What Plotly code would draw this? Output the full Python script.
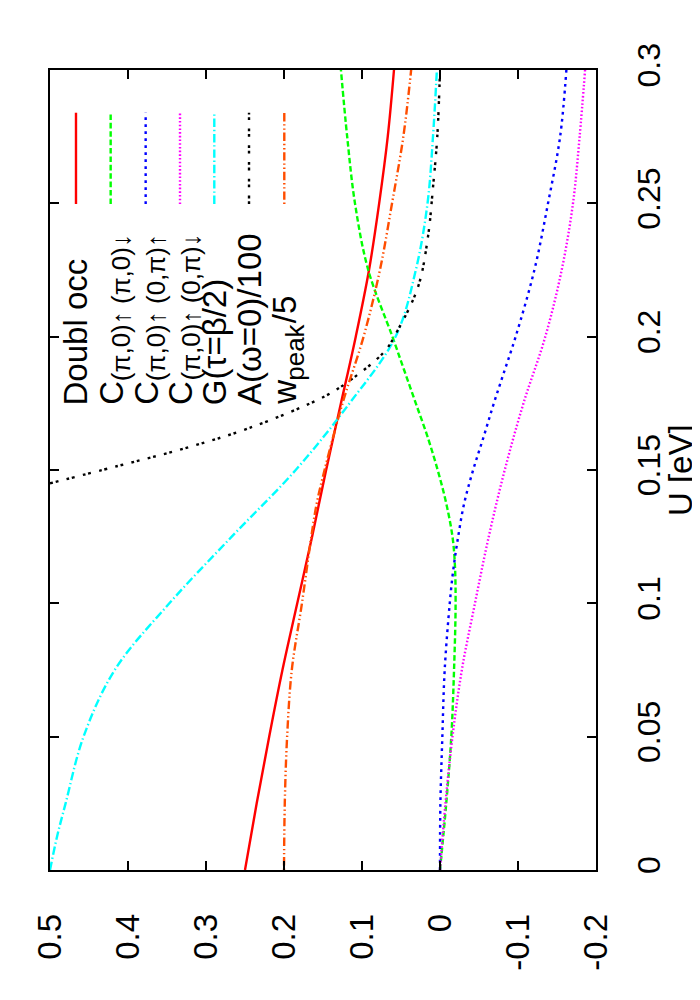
import plotly.graph_objects as go

# U [eV] grid for the curves
u_main = [0.0, 0.025, 0.05, 0.075, 0.1, 0.125, 0.15, 0.175, 0.2, 0.225, 0.25, 0.275, 0.3]
doubl_occ = [0.250, 0.235, 0.219, 0.202, 0.183, 0.164, 0.146, 0.127, 0.108, 0.091, 0.078, 0.067, 0.059]

u_cyan = [0.0, 0.0125, 0.025, 0.05, 0.075, 0.1, 0.125, 0.15, 0.175, 0.2, 0.225, 0.25, 0.275, 0.3]
g_tau = [0.500, 0.491, 0.480, 0.457, 0.417, 0.347, 0.267, 0.185, 0.116, 0.057, 0.031, 0.016, 0.009, 0.004]

u_green = [0.0, 0.025, 0.05, 0.075, 0.1, 0.115, 0.125, 0.1375, 0.15, 0.1625, 0.175, 0.1875, 0.2, 0.225, 0.25, 0.275, 0.3]
c_pp_ud = [0.0, -0.008, -0.0145, -0.018, -0.020, -0.019, -0.016, -0.008, 0.003, 0.016, 0.031, 0.046, 0.061, 0.092, 0.109, 0.119, 0.127]

u_blue = [0.0, 0.025, 0.05, 0.075, 0.1, 0.1125, 0.125, 0.1375, 0.15, 0.1625, 0.175, 0.1875, 0.2, 0.225, 0.25, 0.275, 0.3]
c_p0_uu = [0.0, -0.0005, -0.003, -0.006, -0.0125, -0.017, -0.0233, -0.031, -0.0425, -0.056, -0.069, -0.083, -0.097, -0.121, -0.1385, -0.154, -0.162]

c_p0_ud = [0.0, -0.007, -0.016, -0.028, -0.0448, -0.0625, -0.083, -0.107, -0.135, -0.156, -0.1705, -0.179, -0.186]

u_black = [0.145, 0.1514, 0.158, 0.1658, 0.1776, 0.1839, 0.1945, 0.2025, 0.2188, 0.2375, 0.256, 0.275, 0.3]
a_w0 = [0.500, 0.4145, 0.329, 0.244, 0.148, 0.114, 0.071, 0.054, 0.028, 0.0154, 0.009, 0.0035, 0.0]

u_orange = [0.0, 0.025, 0.05, 0.075, 0.1, 0.125, 0.1375, 0.15, 0.175, 0.2, 0.225, 0.25, 0.275, 0.3]
w_peak = [0.200, 0.199, 0.196, 0.190, 0.177, 0.165, 0.158, 0.148, 0.125, 0.098, 0.077, 0.0615, 0.047, 0.037]

val_ticks = [0.5, 0.4, 0.3, 0.2, 0.1, 0.0, -0.1, -0.2]
val_labels = ["0.5", "0.4", "0.3", "0.2", "0.1", "0", "-0.1", "-0.2"]
u_ticks = [0.0, 0.05, 0.1, 0.15, 0.2, 0.25, 0.3]
u_labels = ["0", "0.05", "0.1", "0.15", "0.2", "0.25", "0.3"]

names = ["Doubl occ",
         "C<sub>(π,0)↑ (π,0)↓</sub>",
         "C<sub>(π,0)↑ (0,π)↑</sub>",
         "C<sub>(π,0)↑ (0,π)↓</sub>",
         "G(τ=β/2)",
         "A(ω=0)/100",
         "w<sub>peak</sub>/5"]

# key text split in pieces: (text, is subscript, advance in px of the piece)
key_parts = [
    [("Doubl occ", False, 0)],
    [("C", False, 24), ("(π,0)↑ (π,0)↓", True, 0)],
    [("C", False, 24), ("(π,0)↑ (0,π)↑", True, 0)],
    [("C", False, 24), ("(π,0)↑ (0,π)↓", True, 0)],
    [("G(τ=β/2)", False, 0)],
    [("A(ω=0)/100", False, 0)],
    [("w", False, 24), ("peak", True, 58), ("/5", False, 0)],
]

# gnuplot postscript line types
styles = [
    ("#FF0000", "solid"),
    ("#00FF00", "5.6px,2.8px"),
    ("#0000FF", "2.8px,4.2px"),
    ("#FF00FF", "1.6px,2.1px"),
    ("#00FFFF", "8.4px,2.8px,1.4px,2.8px"),
    ("#000000", "2.8px,2.8px,2.8px,8.4px"),
    ("#FF4D00", "1.4px,2.8px,8.4px,2.8px,1.4px,2.8px"),
]

series = [
    (doubl_occ, u_main),
    (c_pp_ud, u_green),
    (c_p0_uu, u_blue),
    (c_p0_ud, u_main),
    (g_tau, u_cyan),
    (a_w0, u_black),
    (w_peak, u_orange),
]

font = "Liberation Sans, Arial, Helvetica, sans-serif"
plot_w, plot_h = 546, 800

fig = go.Figure()

for (vals, us), (color, dash), name in zip(series, styles, names):
    fig.add_trace(go.Scatter(
        x = vals,
        y = us,
        mode = "lines",
        line = dict(color = color, width = 2.4, dash = dash),
        line_shape = "spline",
        name = name,
        showlegend = False,
    ))

# rotated key: text + vertical sample line per entry
key_x = [0.0476, 0.1111, 0.1752, 0.2381, 0.3009, 0.3645, 0.4291]
key_y0 = 0.58
for i, (color, dash) in enumerate(styles):
    fig.add_shape(
        type = "line", xref = "paper", yref = "paper",
        x0 = key_x[i], x1 = key_x[i], y0 = 0.8325, y1 = 0.9466,
        line = dict(color = color, width = 2.4, dash = dash),
    )
    y = key_y0
    for text, is_sub, adv in key_parts[i]:
        fig.add_annotation(
            x = key_x[i] + (10 / plot_w if is_sub else 0), y = y,
            xref = "paper", yref = "paper",
            text = text, textangle = -90, showarrow = False,
            xanchor = "center", yanchor = "bottom",
            borderpad = 0,
            font = dict(size = 26 if is_sub else 33, color = "black", family = font),
        )
        y += adv / plot_h

# axis title, placed by hand next to the rotated tick labels
fig.add_annotation(
    x = 1.154, y = 0.5, xref = "paper", yref = "paper",
    text = "U [eV]", textangle = -90, showarrow = False,
    xanchor = "center", yanchor = "middle",
    font = dict(size = 33, color = "black", family = font),
)

fig.update_layout(
    width = 700,
    height = 1000,
    autosize = False,
    margin = dict(l = 42, r = 112, t = 62, b = 138),
    paper_bgcolor = "white",
    plot_bgcolor = "white",
    font = dict(family = font, size = 32, color = "black"),
    showlegend = False,
)

fig.update_xaxes(
    range = [0.5, -0.2],
    tickvals = val_ticks,
    ticktext = val_labels,
    tickangle = -90,
    ticks = "inside",
    ticklen = 9,
    tickwidth = 1.5,
    tickcolor = "black",
    showline = True,
    linecolor = "black",
    linewidth = 1.5,
    mirror = "ticks",
    showgrid = False,
    zeroline = False,
    tickfont = dict(size = 33),
    ticklabelstandoff = 29,
)

fig.update_yaxes(
    range = [0, 0.3],
    side = "right",
    tickvals = u_ticks,
    ticktext = u_labels,
    tickangle = -90,
    ticks = "inside",
    ticklen = 9,
    tickwidth = 1.5,
    tickcolor = "black",
    showline = True,
    linecolor = "black",
    linewidth = 1.5,
    mirror = "ticks",
    showgrid = False,
    zeroline = False,
    tickfont = dict(size = 32),
    ticklabelstandoff = 24,
)

fig.write_html("out.html")
